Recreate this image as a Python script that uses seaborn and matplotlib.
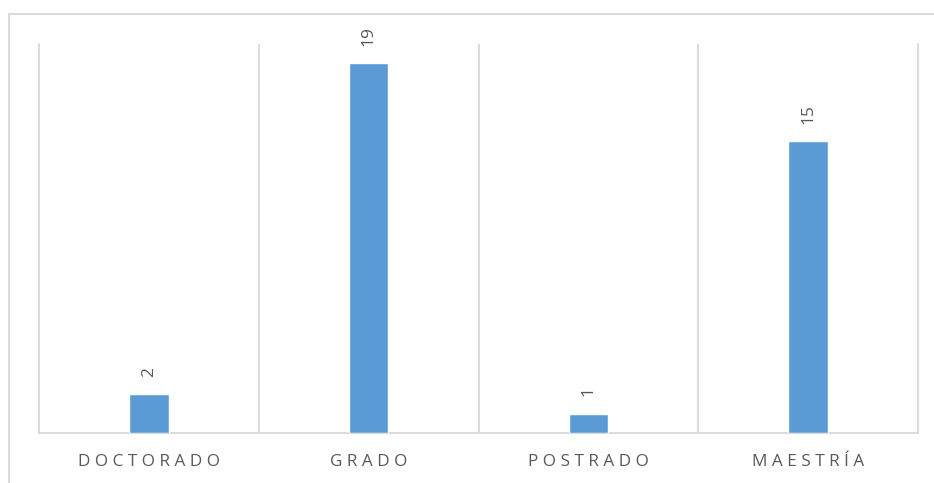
import matplotlib
matplotlib.use("Agg")
import matplotlib.pyplot as plt
import seaborn as sns
import pandas as pd
from matplotlib.patches import Rectangle

categories = ["DOCTORADO", "GRADO", "POSTRADO", "MAESTRÍA"]
values = [2, 19, 1, 15]

df = pd.DataFrame({"cat": categories, "val": values})

sns.set_style("white")
plt.rcParams['font.family'] = ['Open Sans', 'DejaVu Sans']

W, H = 934, 483
fig = plt.figure(figsize=(W / 100, H / 100), dpi=100)
ax = fig.add_axes([39 / W, (H - 433) / H, 879 / W, 389 / H])

sns.barplot(data=df, x="cat", y="val", color="#5B9BD5", width=0.18,
            saturation=1, ax=ax, zorder=3)

ax.set_xlim(-0.5, 3.5)
ax.set_ylim(0, 20)
ax.set_yticks([])
ax.set_xlabel("")
ax.set_ylabel("")

grid_c = "#D9D9D9"
ax.spines["top"].set_visible(False)
for s in ["left", "right", "bottom"]:
    ax.spines[s].set_visible(True)
    ax.spines[s].set_color(grid_c)
    ax.spines[s].set_linewidth(1.3)

ax.set_xticks([0.5, 1.5, 2.5], minor=True)
ax.grid(True, which="minor", axis="x", color=grid_c, linewidth=1.3, zorder=0)
ax.grid(False, which="major")
ax.tick_params(axis="x", which="both", length=0, pad=15)

ax.set_xticks(range(len(categories)))
ax.set_xticklabels([" ".join(list(c)) for c in categories],
                   fontsize=12.3, color="#595959")

for i, v in enumerate(values):
    ax.annotate(str(v), xy=(i, v), xytext=(0, 12.5), textcoords="offset points",
                rotation=90, ha="center", va="bottom", fontsize=12.5, color="#595959")

fig.patches.append(Rectangle((9 / W, -0.1), 1.2, 1 - 14 / H + 0.1, transform=fig.transFigure,
                             fill=False, edgecolor=grid_c, linewidth=1.3))

fig.savefig("out.png", dpi=100)
